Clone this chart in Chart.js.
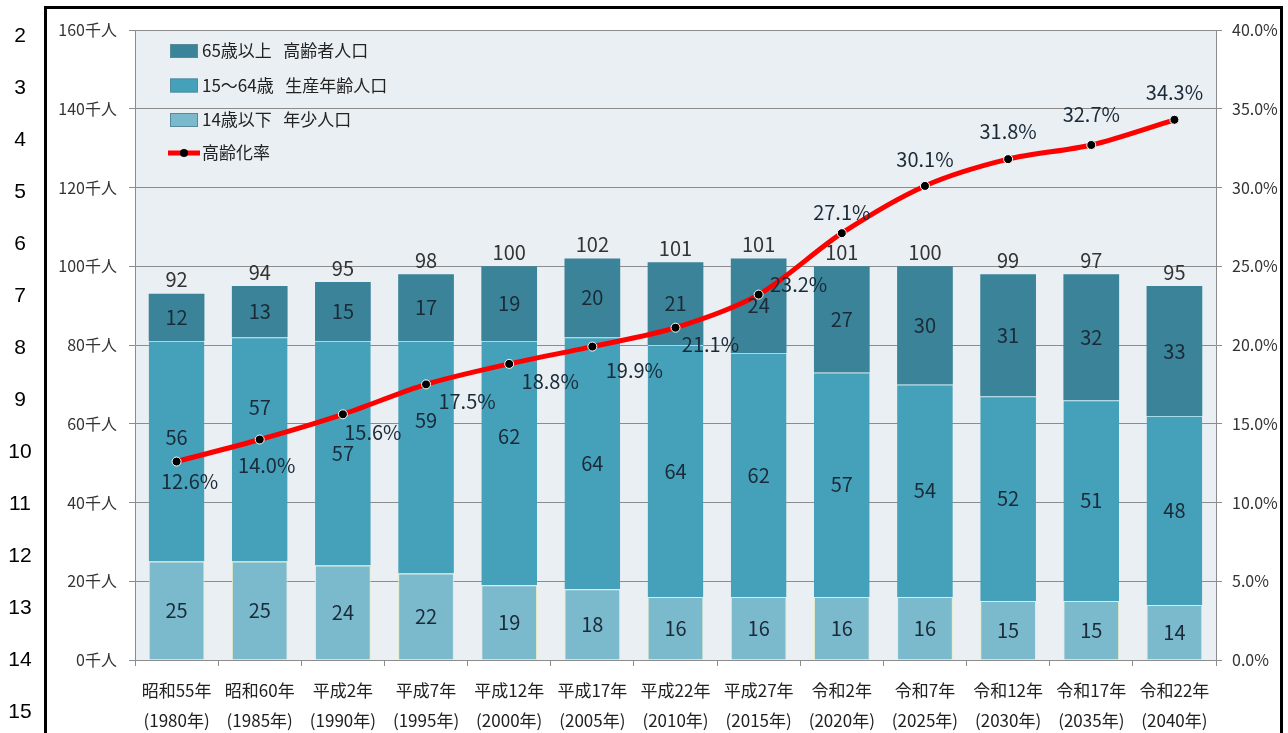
<!DOCTYPE html>
<html lang="ja">
<head>
<meta charset="utf-8">
<title>人口推移と高齢化率</title>
<script src="https://cdn.jsdelivr.net/npm/chart.js@4.4.1/dist/chart.umd.min.js"></script>
<style>
  html, body { margin: 0; padding: 0; background: #fff; }
  canvas { display: block; }
</style>
</head>
<body>
<canvas id="popChart" width="1288" height="733"></canvas>
<script>
// ===================== Data =====================
const YEAR_LABELS = [
  ["昭和55年", "(1980年)"], ["昭和60年", "(1985年)"], ["平成2年", "(1990年)"],
  ["平成7年", "(1995年)"], ["平成12年", "(2000年)"], ["平成17年", "(2005年)"],
  ["平成22年", "(2010年)"], ["平成27年", "(2015年)"], ["令和2年", "(2020年)"],
  ["令和7年", "(2025年)"], ["令和12年", "(2030年)"], ["令和17年", "(2035年)"],
  ["令和22年", "(2040年)"],
];

const young   = [25, 25, 24, 22, 19, 18, 16, 16, 16, 16, 15, 15, 14];
const working = [56, 57, 57, 59, 62, 64, 64, 62, 57, 54, 52, 51, 48];
const elderly = [12, 13, 15, 17, 19, 20, 21, 24, 27, 30, 31, 32, 33];
const totals  = [92, 94, 95, 98, 100, 102, 101, 101, 101, 100, 99, 97, 95];
const agingRate = [12.6, 14.0, 15.6, 17.5, 18.8, 19.9, 21.1, 23.2, 27.1, 30.1, 31.8, 32.7, 34.3];

const ROW_NUMBERS = ["2", "3", "4", "5", "6", "7", "8", "9", "10", "11", "12", "13", "14", "15"];

// ===================== Styling =====================
const FONT = "'Noto Sans CJK JP', 'Noto Sans', sans-serif";
const COLORS = {
  elderly: "#3b8398",
  working: "#45a0b9",
  young: "#7bb9cd",
  line: "#ff0000",
  plotBg: "#e9eff3",
  grid: "#8c8c8c",
};

// label nudges (px) so texts don't collide, like the original sheet
const workingLabelShift = [-14, -42, 0, -37, -27, 0, 0, 0, 0, 0, 0, 0, 0];
const rateLabelOffset = [
  [13, 20], [7, 26], [30, 18], [41, 17], [41, 18], [42, 24], [35, 17],
  [40, -10], [0, -21], [0, -27], [0, -28], [0, -31], [0, -27],
];

// ===================== Plugins =====================
const sheetDecor = {
  id: "sheetDecor",
  beforeDraw(chart) {
    const { ctx, chartArea: a } = chart;
    ctx.save();
    ctx.fillStyle = "#fff";
    ctx.fillRect(0, 0, chart.width, chart.height);
    ctx.fillStyle = COLORS.plotBg;
    ctx.fillRect(a.left, a.top, a.right - a.left, a.bottom - a.top);
    ctx.restore();
  },
  afterDraw(chart) {
    const { ctx } = chart;
    ctx.save();
    // spreadsheet frame
    ctx.strokeStyle = "#000";
    ctx.lineWidth = 3;
    ctx.beginPath();
    ctx.moveTo(45.5, chart.height + 5);
    ctx.lineTo(45.5, 7.5);
    ctx.lineTo(1281.5, 7.5);
    ctx.lineTo(1281.5, chart.height + 5);
    ctx.stroke();

    // row numbers
    ctx.fillStyle = "#000";
    ctx.font = `21px 'Liberation Sans', Arial, sans-serif`;
    ctx.textAlign = "center";
    ctx.textBaseline = "middle";
    ROW_NUMBERS.forEach((n, k) => ctx.fillText(n, 20, 36 + 52 * k));

    // legend
    const items = [
      { text: "65歳以上   高齢者人口", color: COLORS.elderly },
      { text: "15～64歳   生産年齢人口", color: COLORS.working },
      { text: "14歳以下   年少人口", color: COLORS.young },
    ];
    ctx.font = `17px ${FONT}`;
    ctx.textAlign = "left";
    items.forEach((it, k) => {
      const cy = 51 + 34.5 * k;
      ctx.fillStyle = it.color;
      ctx.fillRect(170, cy - 7, 28, 14);
      ctx.strokeStyle = "#5a8a9a";
      ctx.lineWidth = 1;
      ctx.strokeRect(170.5, cy - 6.5, 27, 13);
      ctx.fillStyle = "#222";
      ctx.fillText(it.text, 202, cy);
    });
    const ly = 153;
    ctx.strokeStyle = COLORS.line;
    ctx.lineWidth = 5;
    ctx.beginPath();
    ctx.moveTo(168, ly);
    ctx.lineTo(200, ly);
    ctx.stroke();
    ctx.fillStyle = "#000";
    ctx.beginPath();
    ctx.arc(184, ly, 4, 0, Math.PI * 2);
    ctx.fill();
    ctx.fillStyle = "#222";
    ctx.fillText("高齢化率", 202, ly);
    ctx.restore();
  },
};

const valueLabels = {
  id: "valueLabels",
  afterDatasetsDraw(chart) {
    const { ctx } = chart;
    ctx.save();
    ctx.textAlign = "center";
    ctx.textBaseline = "middle";
    ctx.font = `20px ${FONT}`;

    // segment values
    [young, working, elderly].forEach((series, di) => {
      const meta = chart.getDatasetMeta(di);
      meta.data.forEach((bar, i) => {
        const { y, base } = bar.getProps(["y", "base"], true);
        const shift = di === 1 ? workingLabelShift[i] : 0;
        ctx.fillStyle = "#1b2a38";
        ctx.fillText(String(series[i]), bar.x, (y + base) / 2 + shift);
      });
    });

    // totals above each stack
    const topMeta = chart.getDatasetMeta(2);
    topMeta.data.forEach((bar, i) => {
      ctx.fillStyle = "#333";
      ctx.fillText(String(totals[i]), bar.x, bar.y - 14);
    });

    // aging rate labels
    const lineMeta = chart.getDatasetMeta(3);
    lineMeta.data.forEach((pt, i) => {
      const [dx, dy] = rateLabelOffset[i];
      ctx.fillStyle = "#1b2a38";
      ctx.fillText(agingRate[i].toFixed(1) + "%", pt.x + dx, pt.y + dy);
    });
    ctx.restore();
  },
};

// ===================== Chart =====================
const canvas = document.getElementById("popChart");
new Chart(canvas.getContext("2d"), {
  data: {
    labels: YEAR_LABELS,
    datasets: [
      {
        type: "bar",
        label: "14歳以下　年少人口",
        data: young,
        backgroundColor: COLORS.young,
        borderColor: "#e4ecc6",
        borderWidth: { top: 1, left: 1, right: 1, bottom: 0 },
        order: 1,
      },
      {
        type: "bar",
        label: "15～64歳　生産年齢人口",
        data: working,
        backgroundColor: COLORS.working,
        borderColor: "#a6dbe6",
        borderWidth: { top: 1, left: 0, right: 0, bottom: 0 },
        order: 1,
      },
      {
        type: "bar",
        label: "65歳以上　高齢者人口",
        data: elderly,
        backgroundColor: COLORS.elderly,
        borderWidth: 0,
        order: 1,
      },
      {
        type: "line",
        label: "高齢化率",
        data: agingRate,
        yAxisID: "y1",
        borderColor: COLORS.line,
        borderWidth: 5,
        tension: 0.3,
        pointRadius: 4.5,
        pointBackgroundColor: "#000",
        pointBorderColor: "#fff",
        pointBorderWidth: 1,
        order: 0,
      },
    ],
  },
  options: {
    responsive: false,
    animation: false,
    layout: { padding: { left: 50, right: 5, top: 30, bottom: 0 } },
    datasets: {
      bar: { barPercentage: 0.67, categoryPercentage: 1 },
    },
    plugins: {
      legend: { display: false },
      tooltip: { enabled: false },
    },
    scales: {
      x: {
        stacked: true,
        grid: { drawOnChartArea: false, tickLength: 6, color: COLORS.grid },
        border: { color: COLORS.grid },
        ticks: {
          color: "#222",
          font: { family: FONT, size: 17, lineHeight: 1.75 },
          padding: 10,
          maxRotation: 0,
          autoSkip: false,
        },
        afterFit: (s) => { s.height = 73; },
      },
      y: {
        stacked: true,
        min: 0,
        max: 160,
        grid: { color: COLORS.grid, tickLength: 6 },
        border: { color: COLORS.grid },
        ticks: {
          stepSize: 20,
          color: "#333",
          padding: 12,
          font: { family: FONT, size: 16 },
          callback: (v) => v + "千人",
        },
        afterFit: (s) => { s.width = 85; },
      },
      y1: {
        position: "right",
        min: 0,
        max: 40,
        grid: { drawOnChartArea: false, tickLength: 6, color: COLORS.grid },
        border: { color: COLORS.grid },
        ticks: {
          stepSize: 5,
          color: "#333",
          padding: 10,
          font: { family: FONT, size: 16 },
          callback: (v) => v.toFixed(1) + "%",
        },
        afterFit: (s) => { s.width = 67; },
      },
    },
  },
  plugins: [sheetDecor, valueLabels],
});
</script>
</body>
</html>
